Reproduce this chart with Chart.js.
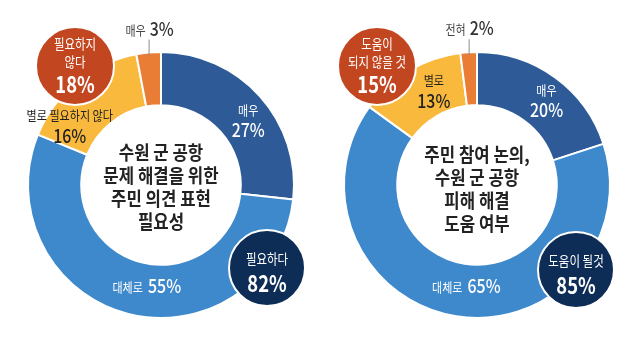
<!DOCTYPE html>
<html lang="ko">
<head>
<meta charset="utf-8">
<script src="https://cdn.jsdelivr.net/npm/chart.js@4.4.1/dist/chart.umd.min.js"></script>
<style>
  html, body { margin: 0; padding: 0; background: #fff; }
  .wrap { position: relative; width: 640px; height: 337px; overflow: hidden; }
  canvas { position: absolute; top: 0; }
</style>
</head>
<body>
<div class="wrap">
  <canvas id="needChart" width="320" height="337" style="left:0"></canvas>
  <canvas id="helpChart" width="320" height="337" style="left:320px"></canvas>
</div>
<script>
// 왼쪽: 주민 의견 표현 필요성
const needLabels = ['매우', '대체로', '별로 필요하지 않다', '매우'];
const needValues = [27, 55, 16, 3];
const needTitle = ['수원 군 공항', '문제 해결을 위한', '주민 의견 표현', '필요성'];
const needSumLabels = [['필요하다'], ['필요하지', '않다']];
const needSumValues = [82, 18];

// 오른쪽: 주민 참여 논의 도움 여부
const helpLabels = ['매우', '대체로', '별로', '전혀'];
const helpValues = [20, 65, 13, 2];
const helpTitle = ['주민 참여 논의,', '수원 군 공항', '피해 해결', '도움 여부'];
const helpSumLabels = [['도움이 될것'], ['도움이', '되지 않을 것']];
const helpSumValues = [85, 15];

const segColors = ['#2e5b97', '#3e88cc', '#f8b93c', '#e97d36'];
const KR = '"Noto Sans CJK KR", "Noto Sans", sans-serif';

function txt(ctx, s, x, y, size, weight, color, sx, align) {
  ctx.save();
  ctx.font = weight + ' ' + size + 'px ' + KR;
  ctx.fillStyle = color;
  ctx.textBaseline = 'middle';
  ctx.textAlign = align || 'center';
  ctx.translate(x, y);
  ctx.scale(sx, 1);
  ctx.fillText(s, 0, 0);
  ctx.restore();
}

function txtWidth(ctx, s, size, weight, sx) {
  ctx.save();
  ctx.font = weight + ' ' + size + 'px ' + KR;
  const w = ctx.measureText(s).width * sx;
  ctx.restore();
  return w;
}

const donutText = {
  id: 'donutText',
  afterDatasetsDraw(chart, args, opts) {
    const ctx = chart.ctx;
    const arcs = chart.getDatasetMeta(0).data;
    const values = chart.data.datasets[0].data;
    const names = chart.data.labels;
    const cx = arcs[0].x, cy = arcs[0].y;

    // 가운데 제목
    const lh = 23;
    const top = cy + opts.titleDy - (opts.title.length - 1) * lh / 2;
    opts.title.forEach((line, i) => {
      txt(ctx, line, cx, top + i * lh, 19, 'bold', '#222', 0.88);
    });

    // 조각 라벨
    arcs.forEach((arc, i) => {
      const st = opts.styles[i];
      const val = values[i] + '%';
      if (st.mode === 'outside') {
        const a = (arc.startAngle + arc.endAngle) / 2;
        const x = cx + Math.cos(a) * arc.outerRadius;
        const y = cy + Math.sin(a) * arc.outerRadius;
        ctx.save();
        ctx.strokeStyle = '#8c8c8c';
        ctx.lineWidth = 1;
        ctx.beginPath();
        ctx.moveTo(x + 0.5, y + 3);
        ctx.lineTo(x + 0.5, y - 13);
        ctx.stroke();
        ctx.restore();
        const w1 = txtWidth(ctx, names[i], 13, 'normal', 0.85);
        const w2 = txtWidth(ctx, val, 19, '500', 0.84);
        let sx = x + 1 - (w1 + 4 + w2) / 2;
        txt(ctx, names[i], sx, y - 23, 13, 'normal', '#444', 0.85, 'left');
        txt(ctx, val, sx + w1 + 4, y - 24, 19, '500', '#333', 0.84, 'left');
        return;
      }
      const c = arc.getCenterPoint();
      const x = c.x + st.dx, y = c.y + st.dy;
      if (st.mode === 'inline') {
        const w1 = txtWidth(ctx, names[i], 13, 'normal', 0.85);
        const w2 = txtWidth(ctx, val, 19, '500', 0.84);
        const sx = x - (w1 + 5 + w2) / 2;
        txt(ctx, names[i], sx, y, 13, 'normal', st.color, 0.85, 'left');
        txt(ctx, val, sx + w1 + 5, y - 1, 19, '500', st.color, 0.84, 'left');
      } else {
        txt(ctx, names[i], x, y - 10, 13, 'normal', st.color, 0.85);
        txt(ctx, val, x, y + 10, 19, '500', st.color, 0.84);
      }
    });

    // 요약 원 (긍정 / 부정)
    opts.badges.forEach((b, i) => {
      const bx = cx + b.dx, by = cy + b.dy;
      ctx.save();
      ctx.beginPath();
      ctx.arc(bx, by, b.r, 0, Math.PI * 2);
      ctx.fillStyle = b.color;
      ctx.fill();
      ctx.lineWidth = 2;
      ctx.strokeStyle = '#fff';
      ctx.stroke();
      ctx.restore();
      const lines = opts.sumLabels[i];
      const n = lines.length;
      const y0 = by - (n === 1 ? 9 : 22);
      lines.forEach((l, k) => {
        txt(ctx, l, bx, y0 + k * 18, 14, 'normal', '#fff', 0.82);
      });
      txt(ctx, opts.sumValues[i] + '%', bx, by + (n === 1 ? 15 : 18), 23, 'bold', '#fff', 0.8);
    });
  }
};

function makeDonut(id, labels, values, padding, textOpts) {
  return new Chart(document.getElementById(id), {
    type: 'doughnut',
    data: {
      labels: labels,
      datasets: [{
        data: values,
        backgroundColor: segColors,
        borderColor: '#fff',
        borderWidth: 2,
        hoverBorderWidth: 2,
        hoverOffset: 0
      }]
    },
    options: {
      responsive: false,
      animation: false,
      cutout: '60%',
      layout: { padding: padding },
      events: [],
      plugins: {
        legend: { display: false },
        tooltip: { enabled: false },
        donutText: textOpts
      }
    },
    plugins: [donutText]
  });
}

makeDonut('needChart', needLabels, needValues,
  { left: 27, right: 25, top: 51, bottom: 18 },
  {
    title: needTitle,
    titleDy: 2,
    styles: [
      { mode: 'stack', color: '#fff', dx: 8, dy: 6 },
      { mode: 'inline', color: '#fff', dx: 12, dy: -1 },
      { mode: 'stack', color: '#222', dx: -24, dy: 23 },
      { mode: 'outside' }
    ],
    sumLabels: needSumLabels,
    sumValues: needSumValues,
    badges: [
      { dx: 106, dy: 83, r: 38, color: '#0e2d56' },
      { dx: -86, dy: -119, r: 39, color: '#c2461f' }
    ]
  });

makeDonut('helpChart', helpLabels, helpValues,
  { left: 23, right: 29, top: 51, bottom: 18 },
  {
    title: helpTitle,
    titleDy: 4,
    styles: [
      { mode: 'stack', color: '#fff', dx: 7, dy: 1 },
      { mode: 'inline', color: '#fff', dx: 6, dy: -3 },
      { mode: 'stack', color: '#222', dx: 11, dy: -3 },
      { mode: 'outside' }
    ],
    sumLabels: helpSumLabels,
    sumValues: helpSumValues,
    badges: [
      { dx: 99, dy: 85, r: 38, color: '#0e2d56' },
      { dx: -100, dy: -119, r: 39, color: '#c2461f' }
    ]
  });
</script>
</body>
</html>
